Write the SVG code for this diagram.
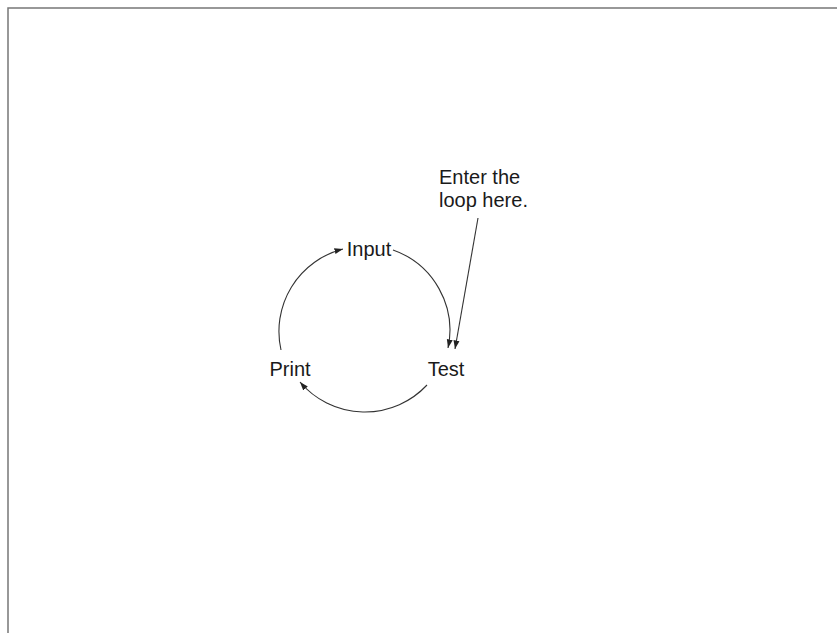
<svg xmlns="http://www.w3.org/2000/svg" width="837" height="633" viewBox="0 0 837 633">
<style>
.lbl{font-family:"Liberation Sans",Arial,sans-serif;font-size:20px;fill:#1a1a1a}
.con{fill:none;stroke:#333;stroke-width:1.1}
.frame{fill:none;stroke:#777;stroke-width:1.5}
</style>
<defs>
<marker id="ah" markerWidth="9" markerHeight="7" refX="8.5" refY="3.5" orient="auto" markerUnits="userSpaceOnUse">
<path d="M0,0.5 L8.5,3.5 L0,6.5 Z" fill="#222"/>
</marker>
</defs>
<rect width="837" height="633" fill="#fff"/>
<path class="frame" d="M8,633 V8 H837"/>
<g id="connectors">
<path class="con" d="M393,250 A85,85 0 0 1 448,348" marker-end="url(#ah)"/>
<path class="con" d="M427,385 A85,85 0 0 1 300,382" marker-end="url(#ah)"/>
<path class="con" d="M281,350 A85,85 0 0 1 343,249" marker-end="url(#ah)"/>
<path class="con" d="M478,218 L455,349" marker-end="url(#ah)"/>
</g>
<g id="input"><text class="lbl" x="369" y="256" text-anchor="middle">Input</text></g>
<g id="print"><text class="lbl" x="290" y="376" text-anchor="middle">Print</text></g>
<g id="test"><text class="lbl" x="446" y="376" text-anchor="middle">Test</text></g>
<g id="note"><text class="lbl" x="439" y="184">Enter the</text><text class="lbl" x="439" y="207">loop here.</text></g>
</svg>
